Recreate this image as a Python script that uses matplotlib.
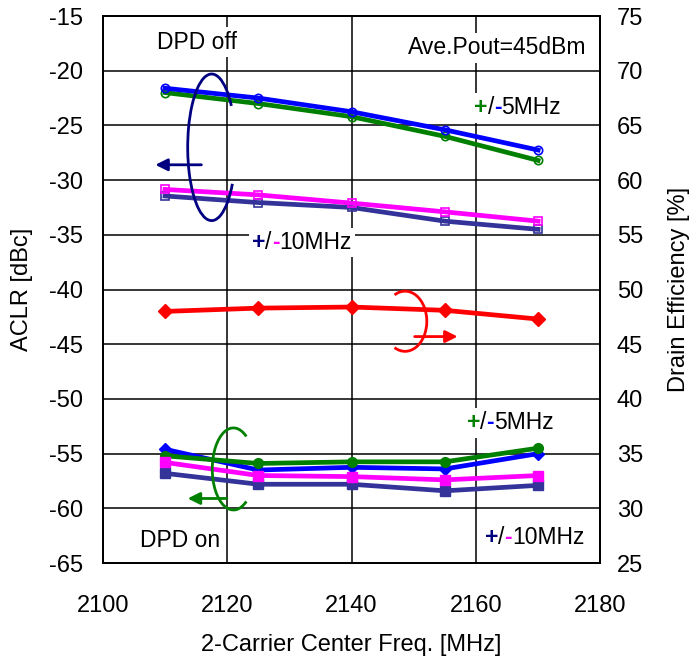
import numpy as np
import matplotlib.pyplot as plt
from matplotlib.patches import Arc
from matplotlib.offsetbox import TextArea, HPacker, AnnotationBbox

plt.rcParams['font.family'] = ['Liberation Sans', 'DejaVu Sans']
plt.rcParams['axes.unicode_minus'] = False

# carrier center frequency [MHz]
freq = [2110, 2125, 2140, 2155, 2170]

# ACLR with DPD off [dBc]
off_p5 = [-22.0, -23.0, -24.2, -26.0, -28.2]
off_m5 = [-21.6, -22.5, -23.75, -25.4, -27.25]
off_p10 = [-31.45, -32.05, -32.5, -33.75, -34.5]
off_m10 = [-30.85, -31.35, -32.1, -32.9, -33.75]

# ACLR with DPD on [dBc]
on_p5 = [-55.2, -55.9, -55.75, -55.75, -54.5]
on_m5 = [-54.6, -56.5, -56.25, -56.4, -55.0]
on_p10 = [-56.8, -57.8, -57.8, -58.4, -57.9]
on_m10 = [-55.8, -57.0, -57.1, -57.4, -57.0]

# drain efficiency [%]
eff = [48.0, 48.3, 48.4, 48.1, 47.3]

GREEN = '#008000'
BLUE = '#0000ff'
MAG = '#ff00ff'
SLATE = '#333399'
NAVY = '#000080'
RED = '#ff0000'
FS = 17

fig = plt.figure(figsize=(6.9, 6.62), dpi=100)
ax = fig.add_axes([0.149, 0.1495, 0.721, 0.8263])
ax2 = ax.twinx()

lw = 3.4
ax.plot(freq, off_p5, color=GREEN, lw=lw, marker='o', ms=6, mfc='none', mew=1.2, zorder=3)
ax.plot(freq, off_m5, color=BLUE, lw=lw, marker='o', ms=6, mfc='none', mew=1.2, zorder=3)
ax.plot(freq, off_p10, color=SLATE, lw=lw, marker='s', ms=6, mfc='none', mew=1.2, zorder=3)
ax.plot(freq, off_m10, color=MAG, lw=lw, marker='s', ms=6, mfc='none', mew=1.2, zorder=3)

ax.plot(freq, on_m5, color=BLUE, lw=lw, marker='D', ms=6, zorder=3)
ax.plot(freq, on_p5, color=GREEN, lw=lw, marker='o', ms=7, zorder=3)
ax.plot(freq, on_p10, color=SLATE, lw=lw, marker='s', ms=7, zorder=3)
ax.plot(freq, on_m10, color=MAG, lw=lw, marker='s', ms=7, zorder=3)

ax2.plot(freq, eff, color=RED, lw=lw, marker='D', ms=7, zorder=3)

ax.set_xlim(2100, 2180)
ax.set_ylim(-65, -15)
ax2.set_ylim(25, 75)
ax.set_xticks(np.arange(2100, 2181, 20))
ax.set_yticks(np.arange(-65, -14, 5))
ax2.set_yticks(np.arange(25, 76, 5))
ax.grid(True, color='black', lw=1.1)
ax.set_axisbelow(True)

ax.tick_params(axis='both', length=0, labelsize=FS)
ax.tick_params(axis='y', pad=14)
ax.tick_params(axis='x', pad=23)
ax2.tick_params(axis='y', length=0, labelsize=FS, pad=12)
for a in (ax, ax2):
    for s in a.spines.values():
        s.set_linewidth(1.3)

ax.set_xlabel('2-Carrier Center Freq. [MHz]', fontsize=FS, labelpad=12)
ax.set_ylabel('ACLR [dBc]', fontsize=FS, labelpad=12)
ax2.set_ylabel('Drain Efficiency [%]', fontsize=FS, labelpad=18)


def label(x, y, parts):
    boxes = [TextArea(t, textprops=dict(color=c, fontsize=16.5,
                                        fontweight='bold' if c != 'black' else 'normal'))
             for t, c in parts]
    pack = HPacker(children=boxes, align='baseline', pad=0, sep=0)
    ab = AnnotationBbox(pack, (x, y), xycoords='data', frameon=True, pad=0.25,
                        bboxprops=dict(facecolor='white', edgecolor='none'), zorder=2)
    ax.add_artist(ab)


label(2115.1, -17.4, [('DPD off', 'black')])
label(2163.5, -17.9, [('Ave.Pout=45dBm', 'black')])
label(2166.7, -23.4, [('+', GREEN), ('/', 'black'), ('-', BLUE), ('5MHz', 'black')])
label(2132.0, -35.7, [('+', NAVY), ('/', 'black'), ('-', MAG), ('10MHz', 'black')])
label(2165.5, -52.2, [('+', GREEN), ('/', 'black'), ('-', BLUE), ('5MHz', 'black')])
label(2112.4, -62.9, [('DPD on', 'black')])
label(2169.4, -62.7, [('+', NAVY), ('/', 'black'), ('-', MAG), ('10MHz', 'black')])

# grouping ellipses with arrows
ax.add_patch(Arc((2117.5, -27.0), 7.7, 13.4, theta1=50, theta2=315, color=NAVY, lw=2, zorder=4))
ax.annotate('', xy=(2108.0, -28.6), xytext=(2116.3, -28.6),
            arrowprops=dict(arrowstyle='-|>', color=NAVY, lw=2, mutation_scale=18), zorder=4)

ax.add_patch(Arc((2148.6, -42.9), 7.0, 5.5, theta1=-125, theta2=125, color=RED, lw=2, zorder=4))
ax.annotate('', xy=(2157.5, -44.3), xytext=(2149.7, -44.3),
            arrowprops=dict(arrowstyle='-|>', color=RED, lw=2, mutation_scale=18), zorder=4)

ax.add_patch(Arc((2121.0, -56.4), 6.8, 7.5, theta1=55, theta2=305, color=GREEN, lw=2, zorder=4))
ax.annotate('', xy=(2113.2, -59.1), xytext=(2120.4, -59.1),
            arrowprops=dict(arrowstyle='-|>', color=GREEN, lw=2, mutation_scale=18), zorder=4)

fig.savefig('out.png', dpi=100)
